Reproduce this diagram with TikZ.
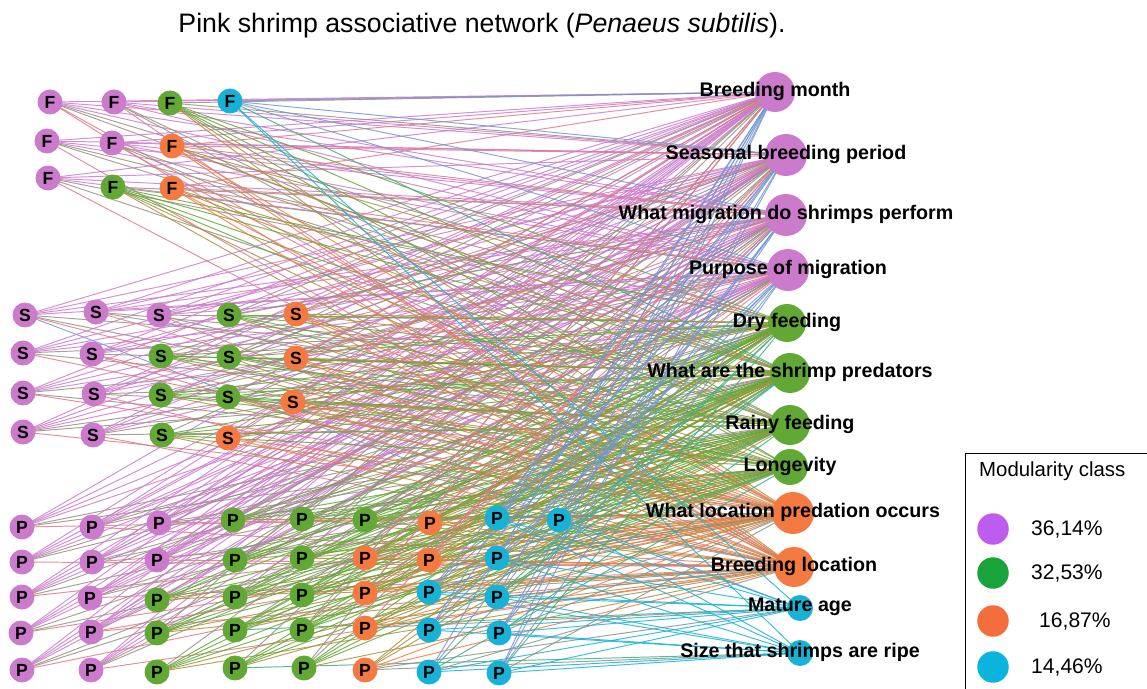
\documentclass[tikz,border=0pt]{standalone}
\usepackage{fontspec}
\setmainfont{Liberation Sans}
\usetikzlibrary{backgrounds}
\definecolor{pu}{HTML}{CC7ACC}
\definecolor{gr}{HTML}{62A834}
\definecolor{or}{HTML}{F47A42}
\definecolor{bl}{HTML}{17B2D6}
\definecolor{lpu}{HTML}{BE5CF0}
\definecolor{lgr}{HTML}{1AA33A}
\definecolor{lor}{HTML}{F46D3C}
\definecolor{lbl}{HTML}{0AB4DC}
\tikzset{
	lnode/.style={circle,inner sep=0pt,minimum size=0.5cm,font=\fontsize{10}{10}\selectfont\bfseries},
	rnode/.style={circle,inner sep=0pt},
	qlabel/.style={inner sep=0pt,font=\fontsize{11.2}{12}\selectfont\bfseries},
	link/.style={line width=0.55pt,opacity=0.85},
}

\begin{document}
\begin{tikzpicture}[x=0.02cm,y=-0.02cm]
		\useasboundingbox (0,0) rectangle (1147,689);
		\node (title) at (482,26) {\fontsize{15.2}{18}\selectfont Pink shrimp associative network (\textit{Penaeus subtilis}).};
		
		% questions
		\foreach \i/\x/\y/\r/\col/\txt in {1/775/92/20/pu/Breeding month,2/786/155/21/pu/Seasonal breeding period,3/786/215/21/pu/What migration do shrimps perform,4/788/270/21/pu/Purpose of migration,5/787/323/19/gr/Dry feeding,6/790/373/20/gr/What are the shrimp predators,7/790/425/20/gr/Rainy feeding,8/790/467/18/gr/Longevity,9/793/513/21/or/What location predation occurs,10/794/567/20/or/Breeding location,11/800/608/13/bl/Mature age,12/800/653/13/bl/Size that shrimps are ripe}{
			\xglobal\colorlet{cr\i}{\col}
			\node[rnode,fill=\col,minimum size=\r*0.04cm] (r\i) at (\x,\y) {};
			\node[qlabel] (t\i) at (\x,\y-1) {\txt};
		}
		
		% answers
		\foreach \n/\x/\y/\col in {f1/50/102/pu,f2/114/102/pu,f3/170/103/gr,f4/230/101/bl,f5/47/141/pu,f6/112/143/pu,f7/172/146/or,f8/48/178/pu,f9/113/187/gr,f10/172/188/or}{
			\xglobal\colorlet{c\n}{\col}
			\node[lnode,fill=\col] (\n) at (\x,\y) {F};
		}
		\foreach \n/\x/\y/\col in {s1/25/315/pu,s2/96/312/pu,s3/159/315/pu,s4/229/315/gr,s5/296/314/or,
			s6/23/353/pu,s7/92/354/pu,s8/161/356/gr,s9/229/357/gr,s10/296/358/or,
			s11/23/393/pu,s12/94/394/pu,s13/161/395/gr,s14/228/397/gr,s15/293/402/or,
			s16/23/432/pu,s17/93/435/pu,s18/162/435/gr,s19/228/438/or}{
			\xglobal\colorlet{c\n}{\col}
			\node[lnode,fill=\col] (\n) at (\x,\y) {S};
		}
		\foreach \n/\x/\y/\col in {p1/22/527/pu,p2/92/527/pu,p3/159/523/pu,p4/233/520/gr,p5/302/519/gr,p6/365/520/gr,p7/430/523/or,p8/497/518/bl,p9/559/520/bl,
			p10/22/562/pu,p11/92/562/pu,p12/157/560/pu,p13/235/560/gr,p14/302/558/gr,p15/365/558/or,p16/429/560/or,p17/497/558/bl,
			p18/22/597/pu,p19/90/598/pu,p20/157/600/gr,p21/235/597/gr,p22/302/595/gr,p23/365/593/or,p24/429/592/bl,p25/497/597/bl,
			p26/21/633/pu,p27/91/632/pu,p28/157/633/gr,p29/235/630/gr,p30/302/630/gr,p31/365/628/or,p32/429/630/bl,p33/499/633/bl,
			p34/22/670/pu,p35/91/670/pu,p36/157/672/gr,p37/235/668/gr,p38/304/668/gr,p39/365/670/or,p40/429/672/bl,p41/499/673/bl}{
			\xglobal\colorlet{c\n}{\col}
			\node[lnode,fill=\col] (\n) at (\x,\y) {P};
		}
		
		% links
		\begin{scope}[on background layer]
			\foreach \s/\tl in {f1/{1,2,3,4,6,9,10,5},f2/{1,2,3,4,7,8,10},f5/{1,2,3,4,5,10,6},f6/{1,2,3,4,6,9,7},f8/{1,2,3,4,7,10,5},
				s1/{1,2,3,4,8,11,6,9},s2/{1,2,3,4,6,9,7},s3/{1,2,3,4,5,10,8},s6/{1,2,3,4,7,9,5},s7/{1,2,3,4,6,9,10},s11/{1,2,3,4,5,8,9},s12/{1,2,3,4,7,10,6},s16/{1,2,3,4,6,9,5},s17/{1,2,3,4,5,10,7},
				p1/{1,2,3,4,9,6,7},p2/{1,2,3,4,6,10,5},p3/{1,2,3,4,7,9,8},p10/{1,2,3,4,5,10,6},p11/{1,2,3,4,6,9,7},p12/{1,2,3,4,8,10,5},p18/{1,2,3,4,5,9,7},p19/{1,2,3,4,7,10,6},p26/{1,2,3,4,6,9,8},p27/{1,2,3,4,5,10,9},p34/{1,2,3,4,7,9,6},p35/{1,2,3,4,6,10,5},
				f3/{5,6,7,8,2,9,1,10},f9/{5,6,7,8,3,10,4,9},s4/{5,6,7,8,1,9,3},s8/{5,6,7,8,4,9,2},s9/{5,6,7,8,2,10,1},s13/{5,6,7,8,3,9,4},s14/{5,6,7,8,1,9,10},s18/{5,6,7,8,10,2,9},
				p4/{5,6,7,8,2,9,3},p5/{5,6,7,8,9,1,10},p6/{5,6,7,8,3,10,4},p13/{5,6,7,8,4,9,2},p14/{5,6,7,8,1,9,10},p20/{5,6,7,8,10,3,9},p21/{5,6,7,8,2,9,4},p22/{5,6,7,8,3,9,10},p28/{5,6,7,8,10,1,9},p29/{5,6,7,8,4,9,11},p30/{5,6,7,8,1,10,2},p36/{5,6,7,8,10,9,3},p37/{5,6,7,8,9,12,2},p38/{5,6,7,8,3,10,1},
				f7/{9,10,1,2,5,3,6},f10/{9,10,3,6,7,1,4},s5/{9,10,2,5,8,1,6},s10/{9,10,4,6,1,7,3},s15/{9,10,3,7,8,2,5},s19/{9,10,5,6,4,1},
				p7/{9,10,2,6,8,5,3},p15/{9,10,1,5,7,6,4},p16/{9,10,3,6,8,5,2},p23/{9,10,4,5,7,6,1},p31/{9,10,2,6,8,7,11},p39/{9,10,5,7,11,12,6},
				f4/{1,11,12,3,6,2,4},p8/{11,12,1,2,5,3,9},p9/{11,12,3,4,6,1,10},p17/{11,12,1,7,9,2,4},p24/{11,12,2,4,8,3,10},p25/{11,12,3,5,10,1,6},p32/{11,12,1,6,9,4,2},p33/{11,12,2,4,7,3,9},p40/{11,12,3,8,10,1,5},p41/{11,12,1,5,9,2,4}}
				\foreach \t in \tl
					\draw[link,draw=c\s!50!cr\t] (\s.center) -- (r\t.center);
		\end{scope}
		
		% legend
		\draw (1160,453) -- (965,453) -- (965,700);
		\node[anchor=west,font=\fontsize{11.6}{12}\selectfont] (leg) at (973,471) {Modularity class};
		\foreach \k/\y/\col/\dx/\v in {1/529/lpu/0/{36,14\%},2/573/lgr/0/{32,53\%},3/621/lor/8/{16,87\%},4/667/lbl/0/{14,46\%}}{
			\node[circle,fill=\col,minimum size=0.63cm] (m\k) at (993,\y) {};
			\node[anchor=west,font=\fontsize{12}{12}\selectfont] (v\k) at (1025+\dx,\y) {\v};
		}
\end{tikzpicture}
\end{document}
